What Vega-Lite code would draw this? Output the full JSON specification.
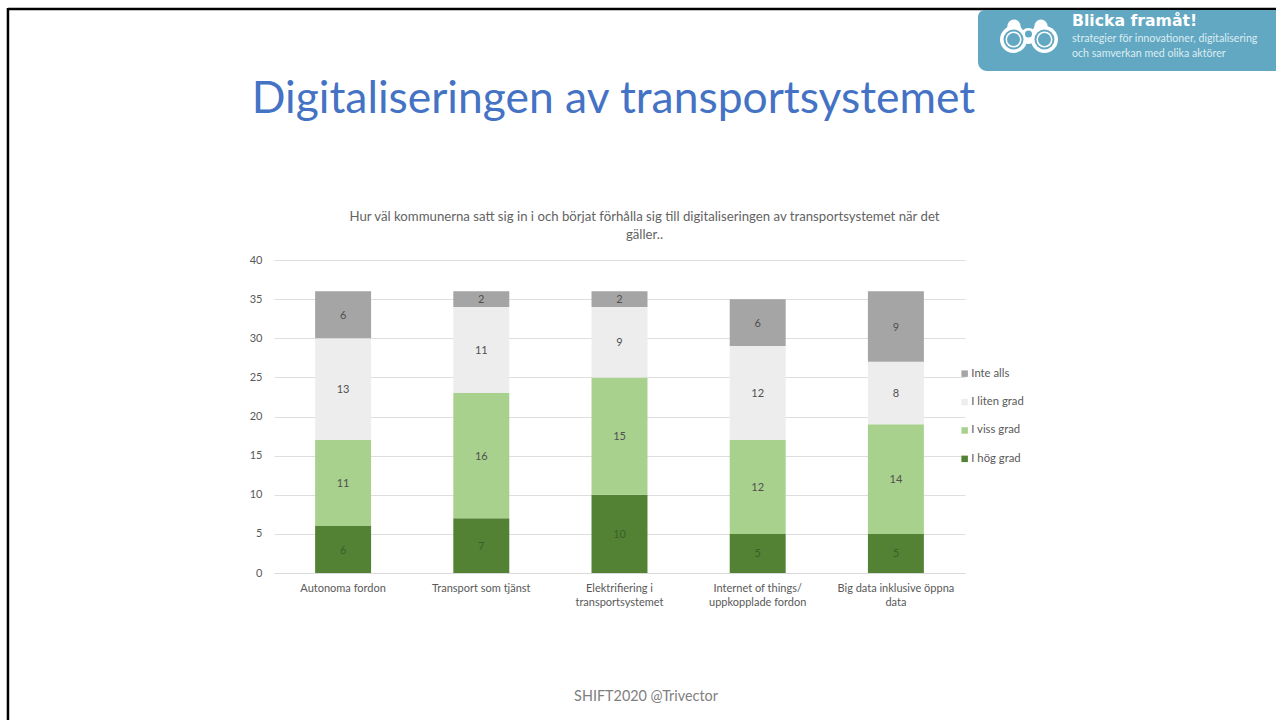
{
"$schema":"https://vega.github.io/schema/vega-lite/v6.json",
"width":691,"height":313,
"autosize":{"type":"none"},
"padding":{"left":274,"top":260,"right":311,"bottom":147},
"background":"white",
"config":{"view":{"stroke":null},"font":"Lato"},
"title":{"text":["Hur väl kommunerna satt sig in i och börjat förhålla sig till digitaliseringen av transportsystemet när det","gäller.."],"anchor":"middle","frame":"group","dx":25,"dy":235,"offset":0,"fontSize":13.2,"fontWeight":"normal","color":"#636363","font":"Lato","lineHeight":18},
"layer":[
{"data":{"values":[
{"kategori":"Autonoma fordon","grad":"I hög grad","ordning":1,"antal":6},
{"kategori":"Autonoma fordon","grad":"I viss grad","ordning":2,"antal":11},
{"kategori":"Autonoma fordon","grad":"I liten grad","ordning":3,"antal":13},
{"kategori":"Autonoma fordon","grad":"Inte alls","ordning":4,"antal":6},
{"kategori":"Transport som tjänst","grad":"I hög grad","ordning":1,"antal":7},
{"kategori":"Transport som tjänst","grad":"I viss grad","ordning":2,"antal":16},
{"kategori":"Transport som tjänst","grad":"I liten grad","ordning":3,"antal":11},
{"kategori":"Transport som tjänst","grad":"Inte alls","ordning":4,"antal":2},
{"kategori":"Elektrifiering i transportsystemet","grad":"I hög grad","ordning":1,"antal":10},
{"kategori":"Elektrifiering i transportsystemet","grad":"I viss grad","ordning":2,"antal":15},
{"kategori":"Elektrifiering i transportsystemet","grad":"I liten grad","ordning":3,"antal":9},
{"kategori":"Elektrifiering i transportsystemet","grad":"Inte alls","ordning":4,"antal":2},
{"kategori":"Internet of things/ uppkopplade fordon","grad":"I hög grad","ordning":1,"antal":5},
{"kategori":"Internet of things/ uppkopplade fordon","grad":"I viss grad","ordning":2,"antal":12},
{"kategori":"Internet of things/ uppkopplade fordon","grad":"I liten grad","ordning":3,"antal":12},
{"kategori":"Internet of things/ uppkopplade fordon","grad":"Inte alls","ordning":4,"antal":6},
{"kategori":"Big data inklusive öppna data","grad":"I hög grad","ordning":1,"antal":5},
{"kategori":"Big data inklusive öppna data","grad":"I viss grad","ordning":2,"antal":14},
{"kategori":"Big data inklusive öppna data","grad":"I liten grad","ordning":3,"antal":8},
{"kategori":"Big data inklusive öppna data","grad":"Inte alls","ordning":4,"antal":9}
]},
"transform":[
{"stack":"antal","groupby":["kategori"],"sort":[{"field":"ordning","order":"ascending"}],"as":["y0","y1"]},
{"calculate":"(datum.y0+datum.y1)/2","as":"mitt"}
],
"encoding":{"x":{"field":"kategori","type":"nominal","sort":null,"title":null,
"scale":{"paddingInner":0.595,"paddingOuter":0.2975},
"axis":{"labelAngle":0,"ticks":false,"domainColor":"#D9D9D9","labelColor":"#595959","labelFontSize":11,"labelPadding":9,"labelLineHeight":14,"labelFont":"Lato","labelLimit":200,
"labelExpr":"datum.label=='Elektrifiering i transportsystemet'?['Elektrifiering i','transportsystemet']:datum.label=='Internet of things/ uppkopplade fordon'?['Internet of things/','uppkopplade fordon']:datum.label=='Big data inklusive öppna data'?['Big data inklusive öppna','data']:datum.label"}}},
"layer":[
{"mark":{"type":"bar"},
"encoding":{
"y":{"field":"y0","type":"quantitative","title":null,"scale":{"domain":[0,40]},
"axis":{"values":[0,5,10,15,20,25,30,35,40],"grid":true,"gridColor":"#DEDEDE","ticks":false,"domain":false,"labelColor":"#595959","labelFontSize":11,"labelPadding":12,"labelFont":"Lato"}},
"y2":{"field":"y1"},
"color":{"field":"grad","type":"nominal","title":null,
"scale":{"domain":["Inte alls","I liten grad","I viss grad","I hög grad"],"range":["#A5A5A5","#EDEDED","#A9D18E","#548235"]},
"legend":{"orient":"none","legendX":685,"legendY":108,"symbolType":"square","symbolSize":42,"symbolStrokeWidth":0,"rowPadding":16.4,"labelFontSize":11.3,"labelColor":"#595959","labelOffset":1,"labelFont":"Lato"}}}},
{"mark":{"type":"text","fontSize":11,"font":"Lato","dy":1},
"encoding":{
"y":{"field":"mitt","type":"quantitative","title":null,
"axis":{"values":[0,5,10,15,20,25,30,35,40],"grid":true,"gridColor":"#DEDEDE","ticks":false,"domain":false,"labelColor":"#595959","labelFontSize":11,"labelPadding":12,"labelFont":"Lato"}},
"text":{"field":"antal","type":"quantitative"},
"color":{"condition":{"test":"datum.grad=='I hög grad'","value":"#3C5F28"},"value":"#505050"}}}
]},
{"data":{"values":[{"dekor":"bild"}]},
"layer":[
{"mark":{"type":"rule","color":"black","strokeWidth":2.5},"encoding":{"x":{"datum":-0.385,"scale":{"domain":[0,1]},"axis":null},"x2":{"datum":1.46},"y":{"datum":72.08,"scale":{"domain":[0,40]},"axis":null}}},
{"mark":{"type":"rule","color":"black","strokeWidth":2.5},"encoding":{"x":{"datum":-0.385},"y":{"datum":72.2},"y2":{"datum":-19}}},
{"mark":{"type":"rect","color":"#62A8C2","cornerRadiusBottomLeft":9,"cornerRadiusTopLeft":7},"encoding":{"x":{"datum":1.0188},"x2":{"datum":1.4501},"y":{"datum":71.95},"y2":{"datum":64.15}}},
{"mark":{"type":"point","shape":"circle","filled":true,"color":"white","opacity":1,"size":169},"encoding":{"x":{"datum":1.0709},"y":{"datum":69.9}}},
{"mark":{"type":"point","shape":"circle","filled":true,"color":"white","opacity":1,"size":169},"encoding":{"x":{"datum":1.11},"y":{"datum":69.9}}},
{"mark":{"type":"point","shape":"circle","filled":true,"color":"white","opacity":1,"size":300},"encoding":{"x":{"datum":1.0709},"y":{"datum":69.1}}},
{"mark":{"type":"point","shape":"circle","filled":true,"color":"white","opacity":1,"size":300},"encoding":{"x":{"datum":1.11},"y":{"datum":69.1}}},
{"mark":{"type":"point","shape":"circle","filled":true,"color":"white","opacity":1,"size":256},"encoding":{"x":{"datum":1.0919},"y":{"datum":68.63}}},
{"mark":{"type":"point","shape":"circle","filled":true,"color":"white","opacity":1,"size":729},"encoding":{"x":{"datum":1.0702},"y":{"datum":68.18}}},
{"mark":{"type":"point","shape":"circle","filled":true,"color":"white","opacity":1,"size":729},"encoding":{"x":{"datum":1.115},"y":{"datum":68.18}}},
{"mark":{"type":"point","shape":"circle","filled":true,"color":"#62A8C2","opacity":1,"size":400},"encoding":{"x":{"datum":1.0702},"y":{"datum":68.18}}},
{"mark":{"type":"point","shape":"circle","filled":true,"color":"#62A8C2","opacity":1,"size":400},"encoding":{"x":{"datum":1.115},"y":{"datum":68.18}}},
{"mark":{"type":"point","shape":"circle","filled":true,"color":"white","opacity":1,"size":256},"encoding":{"x":{"datum":1.0702},"y":{"datum":68.18}}},
{"mark":{"type":"point","shape":"circle","filled":true,"color":"white","opacity":1,"size":256},"encoding":{"x":{"datum":1.115},"y":{"datum":68.18}}},
{"mark":{"type":"point","shape":"circle","filled":true,"color":"#62A8C2","opacity":1,"size":169},"encoding":{"x":{"datum":1.0702},"y":{"datum":68.18}}},
{"mark":{"type":"point","shape":"circle","filled":true,"color":"#62A8C2","opacity":1,"size":169},"encoding":{"x":{"datum":1.115},"y":{"datum":68.18}}},
{"mark":{"type":"point","shape":"circle","filled":true,"color":"#62A8C2","opacity":1,"size":49},"encoding":{"x":{"datum":1.0919},"y":{"datum":68.88}}},
{"mark":{"type":"text","text":"Blicka framåt!","font":"DejaVu Sans","fontWeight":"bold","fontSize":15.7,"color":"white","align":"left"},"encoding":{"x":{"datum":1.1548},"y":{"datum":70.55}}},
{"mark":{"type":"text","text":"strategier för innovationer, digitalisering","font":"Lato","fontSize":10.65,"color":"#DCEDF3","align":"left"},"encoding":{"x":{"datum":1.1548},"y":{"datum":68.24}}},
{"mark":{"type":"text","text":"och samverkan med olika aktörer","font":"Lato","fontSize":10.65,"color":"#DCEDF3","align":"left"},"encoding":{"x":{"datum":1.1548},"y":{"datum":66.33}}},
{"mark":{"type":"text","text":"Digitaliseringen av transportsystemet","font":"Lato","fontSize":44.4,"color":"#4472C4","align":"center"},"encoding":{"x":{"datum":0.4913},"y":{"datum":60.45}}},
{"mark":{"type":"text","text":"SHIFT2020 @Trivector","font":"Lato","fontSize":14.4,"color":"#7F7F7F","align":"center"},"encoding":{"x":{"datum":0.5384},"y":{"datum":-15.82}}}
]}
],
"resolve":{"scale":{"x":"independent","y":"independent"}}
}
